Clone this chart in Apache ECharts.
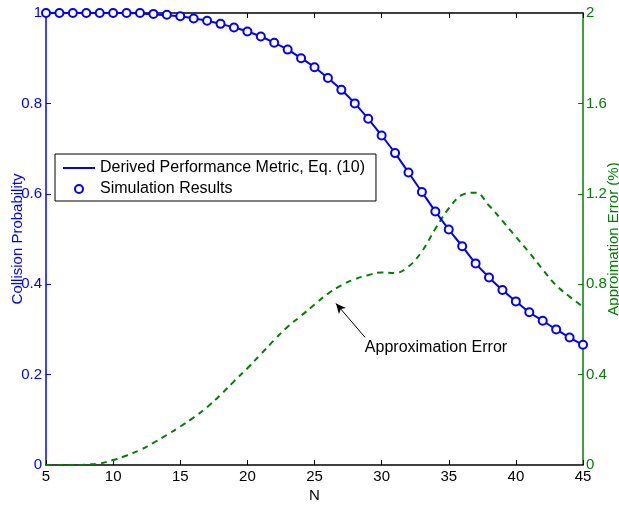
<!DOCTYPE html>
<html>
<head>
<meta charset="utf-8">
<script src="https://cdn.jsdelivr.net/npm/echarts@6/dist/echarts.min.js"></script>
<style>
  html, body { margin: 0; padding: 0; background: #fff; }
  #main { width: 619px; height: 506px; }
</style>
</head>
<body>
<div id="main"></div>
<script>
// number of nodes N
var nodes = [5, 6, 7, 8, 9, 10, 11, 12, 13, 14, 15, 16, 17, 18, 19, 20, 21, 22, 23, 24, 25,
             26, 27, 28, 29, 30, 31, 32, 33, 34, 35, 36, 37, 38, 39, 40, 41, 42, 43, 44, 45];
// collision probability, analytic curve (Eq. 10)
var derived = [1, 1, 1, 1, 1, 1, 1, 0.999, 0.997, 0.995, 0.992, 0.988, 0.983, 0.976, 0.968, 0.959,
               0.948, 0.934, 0.919, 0.900, 0.880, 0.856, 0.830, 0.800, 0.766, 0.729, 0.690, 0.647,
               0.604, 0.561, 0.521, 0.484, 0.446, 0.415, 0.387, 0.362, 0.338, 0.319, 0.300, 0.282, 0.266];
// collision probability, simulation
var simulation = [1, 1, 1, 1, 1, 1, 1, 1, 0.998, 0.996, 0.993, 0.988, 0.983, 0.976, 0.968, 0.959,
                  0.948, 0.934, 0.919, 0.900, 0.880, 0.856, 0.830, 0.800, 0.766, 0.729, 0.690, 0.647,
                  0.604, 0.561, 0.521, 0.484, 0.446, 0.415, 0.387, 0.362, 0.338, 0.319, 0.300, 0.282, 0.266];
// approximation error in %
var approxError = [0, 0, 0, 0.002, 0.007, 0.022, 0.042, 0.066, 0.098, 0.133, 0.17, 0.21, 0.256, 0.31,
                   0.37, 0.428, 0.49, 0.553, 0.612, 0.66, 0.71, 0.758, 0.795, 0.822, 0.84, 0.852, 0.85,
                   0.878, 0.945, 1.045, 1.135, 1.195, 1.205, 1.148, 1.08, 1.01, 0.94, 0.865, 0.795, 0.745, 0.70];

var blue = '#0000ff';
var green = '#007f00';
var font = 'Liberation Sans, Arial, Helvetica, sans-serif';

function pairs(ys) {
  return nodes.map(function (n, i) { return [n, ys[i]]; });
}

var myChart = echarts.init(document.getElementById('main'));

var option = {
  backgroundColor: '#fff',
  animation: false,
  textStyle: { fontFamily: font },
  grid: { left: 46, right: 36, top: 13, bottom: 41, containLabel: false, outerBoundsMode: 'none' },
  legend: {
    orient: 'vertical',
    left: 55,
    top: 154,
    padding: [6, 11, 4, 8],
    itemGap: 5,
    itemWidth: 32,
    itemHeight: 10,
    backgroundColor: '#fff',
    borderColor: '#000',
    borderWidth: 1,
    textStyle: { fontSize: 16, color: '#000', fontFamily: font },
    data: [
      { name: 'Derived Performance Metric, Eq. (10)', icon: 'path://M0,0H32V2H0Z' },
      { name: 'Simulation Results', lineStyle: { width: 0, opacity: 0 } }
    ]
  },
  xAxis: [
    {
      type: 'value',
      min: 5, max: 45, interval: 5,
      name: 'N',
      nameLocation: 'middle',
      nameGap: 23,
      nameMoveOverlap: false,
      nameTextStyle: { fontSize: 15, color: '#000' },
      axisLine: { onZero: false, lineStyle: { color: '#000', width: 1.5 } },
      axisTick: { inside: true, length: 5, lineStyle: { color: '#000' } },
      axisLabel: { margin: 4, fontSize: 15, color: '#000' },
      splitLine: { show: false }
    },
    {
      type: 'value',
      position: 'top',
      min: 5, max: 45, interval: 5,
      axisLine: { onZero: false, lineStyle: { color: '#000', width: 1.5 } },
      axisTick: { inside: true, length: 5, lineStyle: { color: '#000' } },
      axisLabel: { show: false },
      splitLine: { show: false }
    }
  ],
  yAxis: [
    {
      type: 'value',
      min: 0, max: 1, interval: 0.2,
      name: 'Collision Probability',
      nameLocation: 'middle',
      nameRotate: 90,
      nameGap: 21,
      nameMoveOverlap: false,
      nameTextStyle: { fontSize: 15, color: blue, verticalAlign: 'bottom' },
      axisLine: { show: true, onZero: false, lineStyle: { color: blue, width: 1.5 } },
      axisTick: { show: true, inside: true, length: 5, lineStyle: { color: blue } },
      axisLabel: { margin: 4, fontSize: 15, color: blue },
      splitLine: { show: false }
    },
    {
      type: 'value',
      position: 'right',
      min: 0, max: 2, interval: 0.4,
      name: 'Approimation Error (%)',
      nameLocation: 'middle',
      nameRotate: 90,
      nameGap: 23,
      nameMoveOverlap: false,
      nameTextStyle: { fontSize: 15, color: green, verticalAlign: 'top' },
      axisLine: { show: true, onZero: false, lineStyle: { color: green, width: 1.5 } },
      axisTick: { show: true, inside: true, length: 5, lineStyle: { color: green } },
      axisLabel: {
        margin: 3, fontSize: 15, color: green,
        formatter: function (v) { return v === 0 || v === 2 ? String(v) : v.toFixed(1); }
      },
      splitLine: { show: false }
    }
  ],
  series: [
    {
      name: 'Approximation Error',
      type: 'line',
      xAxisIndex: 0,
      yAxisIndex: 1,
      data: pairs(approxError),
      smooth: 0.4,
      symbol: 'none',
      lineStyle: { color: green, width: 2, type: [6, 5] },
      markLine: {
        silent: true,
        symbol: ['none', 'arrow'],
        symbolSize: [7, 10],
        label: { show: false },
        lineStyle: { color: '#000', width: 1, type: 'solid' },
        data: [[{ coord: [28.76, 0.565] }, { coord: [26.6, 0.715] }]]
      },
      markPoint: {
        silent: true,
        symbol: 'circle',
        symbolSize: 0,
        label: {
          show: true, position: 'right', distance: 2,
          color: '#000', fontSize: 16, fontFamily: font,
          formatter: 'Approximation Error'
        },
        data: [{ coord: [28.6, 0.518] }]
      },
      z: 2
    },
    {
      name: 'Derived Performance Metric, Eq. (10)',
      type: 'line',
      xAxisIndex: 0,
      yAxisIndex: 0,
      data: pairs(derived),
      smooth: 0.4,
      symbol: 'none',
      itemStyle: { color: blue },
      lineStyle: { color: blue, width: 2 },
      z: 3
    },
    {
      name: 'Simulation Results',
      type: 'line',
      xAxisIndex: 0,
      yAxisIndex: 0,
      data: pairs(simulation),
      symbol: 'emptyCircle',
      symbolSize: 8,
      showAllSymbol: true,
      itemStyle: { color: blue, borderColor: blue, borderWidth: 2 },
      lineStyle: { width: 0 },
      z: 4
    }
  ]
};

myChart.setOption(option);
</script>
</body>
</html>
